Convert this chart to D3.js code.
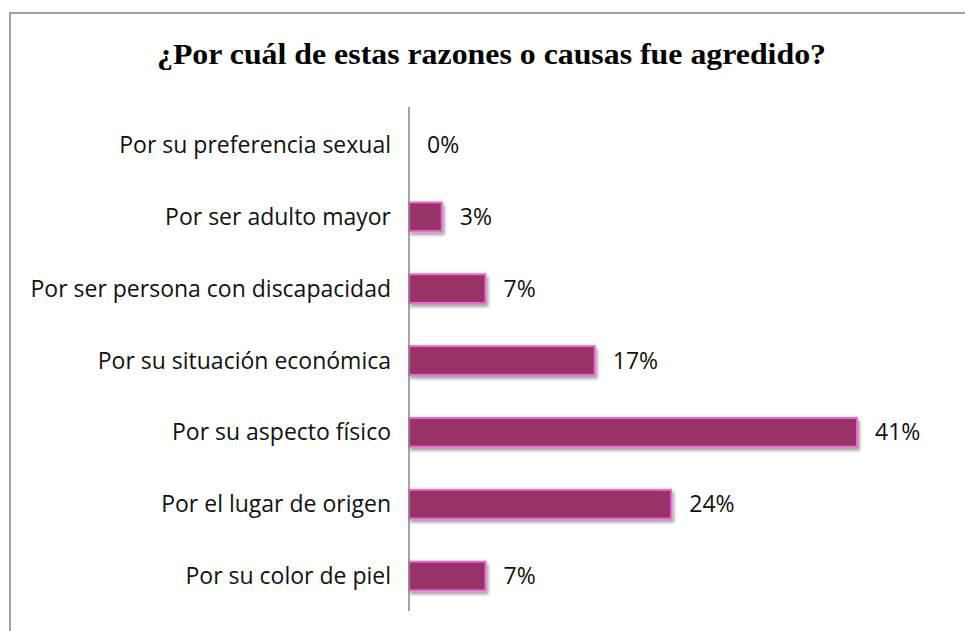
<!DOCTYPE html>
<html>
<head>
<meta charset="utf-8">
<script src="https://cdn.jsdelivr.net/npm/d3@7"></script>
<style>
  body { margin: 0; background: #fff; }
  svg text { font-family: "Open Sans", "Noto Sans", sans-serif; }
</style>
</head>
<body>
<div id="container"></div>
<script>
// chart data
var title = "¿Por cuál de estas razones o causas fue agredido?";
var categories = [
  "Por su preferencia sexual",
  "Por ser adulto mayor",
  "Por ser persona con discapacidad",
  "Por su situación económica",
  "Por su aspecto físico",
  "Por el lugar de origen",
  "Por su color de piel"
];
var values = [0, 3, 7, 17, 41, 24, 7];
var valueLabels = ["0%", "3%", "7%", "17%", "41%", "24%", "7%"];

width = 965;
height = 631;

window.onload = function() {
  var svg = d3
    .select("#container")
    .append("svg")
    .attr("width", width)
    .attr("height", height);

  // frame (only top and left edges visible)
  svg
    .append("path")
    .attr("d", "M10,640 L10,13 L975,13")
    .style("fill", "none")
    .style("stroke", "#a0a0a0")
    .style("stroke-width", 2);

  svg
    .append("text")
    .attr("x", 157)
    .attr("y", 64)
    .attr("textLength", 669)
    .attr("lengthAdjust", "spacingAndGlyphs")
    .style("font-family", "'Liberation Serif', 'DejaVu Serif', serif")
    .style("font-weight", "bold")
    .style("font-size", "30px")
    .style("fill", "#000")
    .text(title);

  var x = d3.scaleLinear().domain([0, 41]).range([409, 857]);
  var y = d3
    .scaleBand()
    .domain(categories)
    .range([109, 612])
    .paddingInner(0.6)
    .paddingOuter(0.3);

  var rows = categories.map(function(c, i) {
    return { cat: c, value: values[i], label: valueLabels[i] };
  });

  // shadow filter
  var defs = svg.append("defs");
  var f = defs
    .append("filter")
    .attr("id", "shadow")
    .attr("x", "-10%")
    .attr("y", "-30%")
    .attr("width", "130%")
    .attr("height", "180%");
  f.append("feDropShadow")
    .attr("dx", 2)
    .attr("dy", 3)
    .attr("stdDeviation", 1.5)
    .attr("flood-color", "#000")
    .attr("flood-opacity", 0.35);

  svg
    .append("g")
    .selectAll("rect")
    .data(rows.filter(function(d) { return d.value > 0; }))
    .enter()
    .append("rect")
    .attr("x", x(0))
    .attr("y", function(d) { return y(d.cat); })
    .attr("height", y.bandwidth())
    .attr("width", function(d) { return x(d.value) - x(0); })
    .style("fill", "#993366")
    .style("stroke", "#f066d8")
    .style("stroke-width", 2)
    .attr("filter", "url(#shadow)");

  // axis line
  svg
    .append("line")
    .attr("x1", x(0))
    .attr("x2", x(0))
    .attr("y1", 107)
    .attr("y2", 611)
    .style("stroke", "#868686")
    .style("stroke-width", 1.5);

  // category labels
  svg
    .append("g")
    .selectAll("text")
    .data(rows)
    .enter()
    .append("text")
    .attr("x", 391)
    .attr("y", function(d) { return y(d.cat) + y.bandwidth() / 2; })
    .attr("dy", "0.35em")
    .attr("text-anchor", "end")
    .style("font-size", "23px")
    .style("fill", "#111")
    .text(function(d) { return d.cat; });

  // value labels
  svg
    .append("g")
    .selectAll("text")
    .data(rows)
    .enter()
    .append("text")
    .attr("x", function(d) { return x(d.value) + 18; })
    .attr("y", function(d) { return y(d.cat) + y.bandwidth() / 2; })
    .attr("dy", "0.35em")
    .style("font-size", "23px")
    .style("fill", "#111")
    .text(function(d) { return d.label; });
};
</script>
</body>
</html>
